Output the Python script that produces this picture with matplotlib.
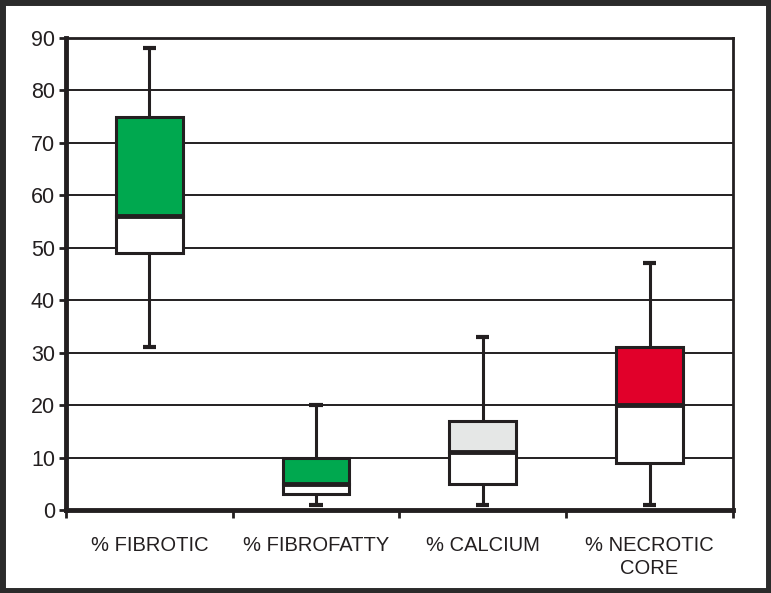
import matplotlib
matplotlib.use("Agg")
import matplotlib.pyplot as plt
from matplotlib.patches import Rectangle

categories = ["% FIBROTIC", "% FIBROFATTY", "% CALCIUM", "% NECROTIC\nCORE"]
whisker_low = [31, 1, 1, 1]
q1 = [49, 3, 5, 9]
median = [56, 5, 11, 20]
q3 = [75, 10, 17, 31]
whisker_high = [88, 20, 33, 47]
upper_colors = ["#00a84f", "#00a84f", "#e5e7e6", "#e1002a"]
yticks = [0, 10, 20, 30, 40, 50, 60, 70, 80, 90]

plt.rcParams['font.family'] = ['Liberation Sans', 'DejaVu Sans']
fs = 14.5
ink = "#231f20"

fig = plt.figure(figsize=(7.71, 5.93), dpi=100)
ax = fig.add_axes([0.0856, 0.140, 0.865, 0.796])

x = list(range(len(categories)))
w = 0.4
for i in x:
    ax.vlines(i, q3[i], whisker_high[i], color=ink, lw=2.2, zorder=2)
    ax.vlines(i, whisker_low[i], q1[i], color=ink, lw=2.2, zorder=2)
    ax.hlines([whisker_high[i], whisker_low[i]], i - 0.04, i + 0.04, color=ink, lw=3, zorder=2)
    ax.bar(i, q3[i] - median[i], bottom=median[i], width=w, color=upper_colors[i],
           edgecolor=ink, lw=2.2, zorder=3)
    ax.bar(i, median[i] - q1[i], bottom=q1[i], width=w, color="white",
           edgecolor=ink, lw=2.2, zorder=3)
    ax.hlines(median[i], i - w / 2, i + w / 2, color=ink, lw=3.5, zorder=4)

ax.set_xlim(-0.5, len(categories) - 0.5)
ax.set_ylim(0, 90)
ax.set_yticks(yticks)
ax.set_yticklabels([str(t) for t in yticks], fontsize=fs + 1, color=ink)
ax.set_xticks(x)
ax.set_xticklabels(categories, fontsize=fs, color=ink, linespacing=1.25)
ax.tick_params(axis='x', which='major', length=0, pad=19)
ax.set_xticks([i - 0.5 for i in range(len(categories) + 1)], minor=True)
ax.tick_params(axis='x', which='minor', length=6, width=2, color=ink, direction='out')
ax.tick_params(axis='y', length=5, width=2, color=ink, pad=3)

for t in yticks[1:]:
    ax.axhline(t, color=ink, lw=1.4, zorder=1)

ax.spines['left'].set_linewidth(3.5)
ax.spines['bottom'].set_linewidth(3.5)
ax.spines['top'].set_linewidth(2)
ax.spines['right'].set_linewidth(2)
for s in ax.spines.values():
    s.set_color(ink)

fig.patches.append(Rectangle((0.003, 0.004), 0.994, 0.992, transform=fig.transFigure,
                             fill=False, edgecolor="#2b2b2b", lw=5))

fig.savefig("out.png", dpi=100)
